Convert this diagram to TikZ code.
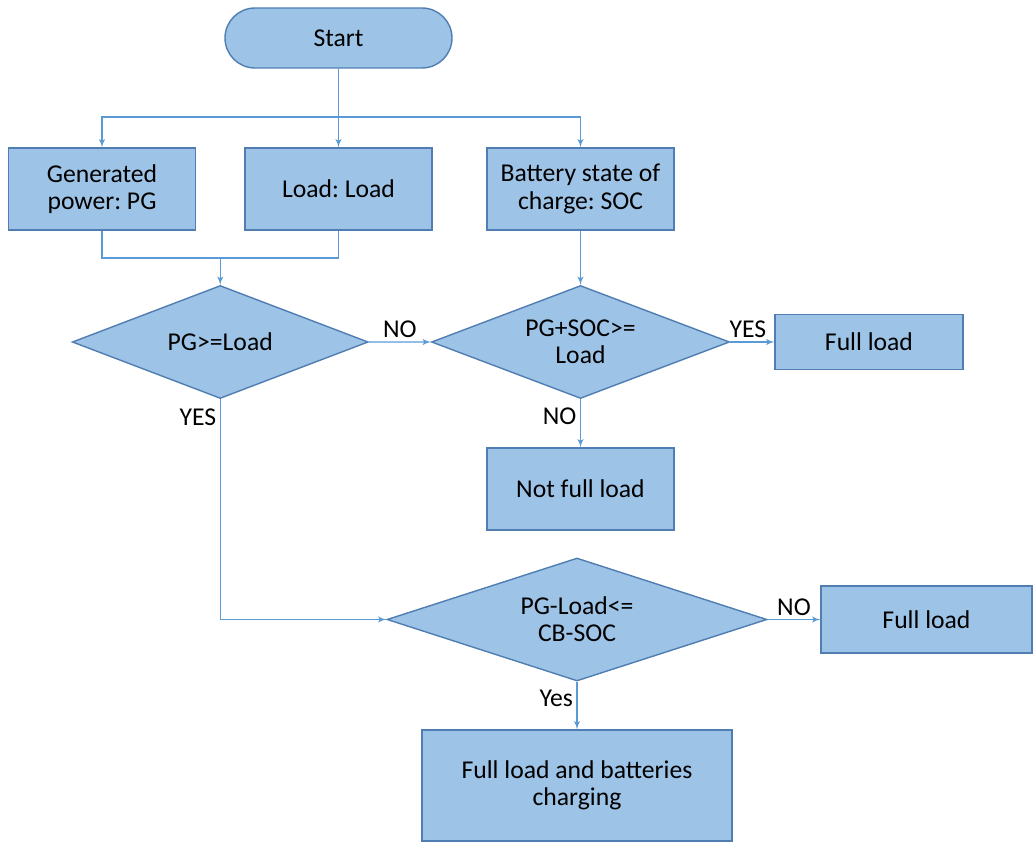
\documentclass[tikz,border=0pt]{standalone}
\usepackage{fontspec}
\setmainfont{Carlito}
\usepackage{tikz}
\usetikzlibrary{shapes,arrows,positioning,calc}
\frenchspacing
\definecolor{boxfill}{RGB}{157,195,230}
\definecolor{boxline}{RGB}{80,126,178}
\definecolor{wire}{RGB}{91,155,213}
\tikzstyle{block} = [draw=boxline, rectangle, line width=0.8pt, fill=boxfill,
    minimum height=1.64cm, minimum width=3.74cm, text=black, align=center]
\tikzstyle{terminal} = [draw=boxline, rectangle, rounded corners=0.6cm, line width=0.8pt,
    fill=boxfill, minimum height=1.2cm, minimum width=4.54cm, text=black]
\tikzstyle{decision} = [draw=boxline, diamond, line width=0.8pt, fill=boxfill, inner sep=0pt,
    aspect=2.6, minimum height=2.26cm, minimum width=5.92cm, text=black, align=center]
\tikzstyle{arr} = [draw=wire, line width=0.6pt, ->]
\tikzstyle{line} = [draw=wire, line width=0.6pt]
\tikzstyle{lbl} = [text=black, inner sep=2pt]

\begin{document}
\begin{tikzpicture}[node distance=2cm, >=latex', font=\fontsize{14.6}{15.5}\selectfont]
    \useasboundingbox (0,0) rectangle (20.66,-16.86);
    \node [terminal] (start) at (6.77,-0.76) {Start};
    \coordinate [below of=start, node distance=1.58cm] (split);

    % inputs
    \node [block, below of=start, node distance=3.02cm] (load) {Load: Load};
    \node [block, left of=load, node distance=4.73cm] (pg) {Generated\\power: PG};
    \node [block, right of=load, node distance=4.84cm] (soc) {Battery state of\\charge: SOC};

    % first checks
    \coordinate (pg_load) at ($(pg)!0.5!(load)$);
    \node [decision, below of=pg_load, node distance=3.06cm] (check1) {PG>=Load};
    \coordinate [above of=check1, node distance=1.68cm] (join);
    \node [decision, below of=soc, node distance=3.06cm, minimum width=5.96cm] (check2) {PG+SOC>=\\Load};
    \node [block, right of=check2, node distance=5.77cm, minimum width=3.76cm,
            minimum height=1.1cm] (full1) {Full load};
    \node [block, below of=check2, node distance=2.94cm] (notfull) {Not full load};

    % surplus check
    \node [decision, below of=notfull, node distance=2.61cm, xshift=-0.07cm, aspect=3.1,
            minimum width=7.6cm, minimum height=2.46cm] (check3) {PG-Load<=\\CB-SOC};
    \node [block, right of=check3, node distance=6.99cm, minimum width=4.22cm,
            minimum height=1.34cm] (full2) {Full load};
    \node [block, below of=check3, node distance=3.32cm, minimum width=6.2cm,
            minimum height=2.22cm] (charge) {Full load and batteries\\charging};

    \draw [arr] (start) -- (load);
    \draw [arr] (split) -| (pg);
    \draw [arr] (split) -| (soc);
    \draw [line] (pg) |- (join) -| (load);
    \draw [arr] (join) -- (check1);
    \draw [arr] (soc) -- (check2);

    \draw [arr] (check1) -- node [lbl, above] {NO} (check2);
    \draw [arr] (check2) -- node [lbl, above, pos=0.4] {YES} (full1);
    \draw [arr] (check2) -- node [lbl, left, pos=0.35] {NO} (notfull);
    \draw [arr] (check1) |- node [lbl, left, pos=0.04] {YES} (check3);
    \draw [arr] (check3) -- node [lbl, above] {NO} (full2);
    \draw [arr] (check3) -- node [lbl, left, pos=0.35] {Yes} (charge);
\end{tikzpicture}
\end{document}
